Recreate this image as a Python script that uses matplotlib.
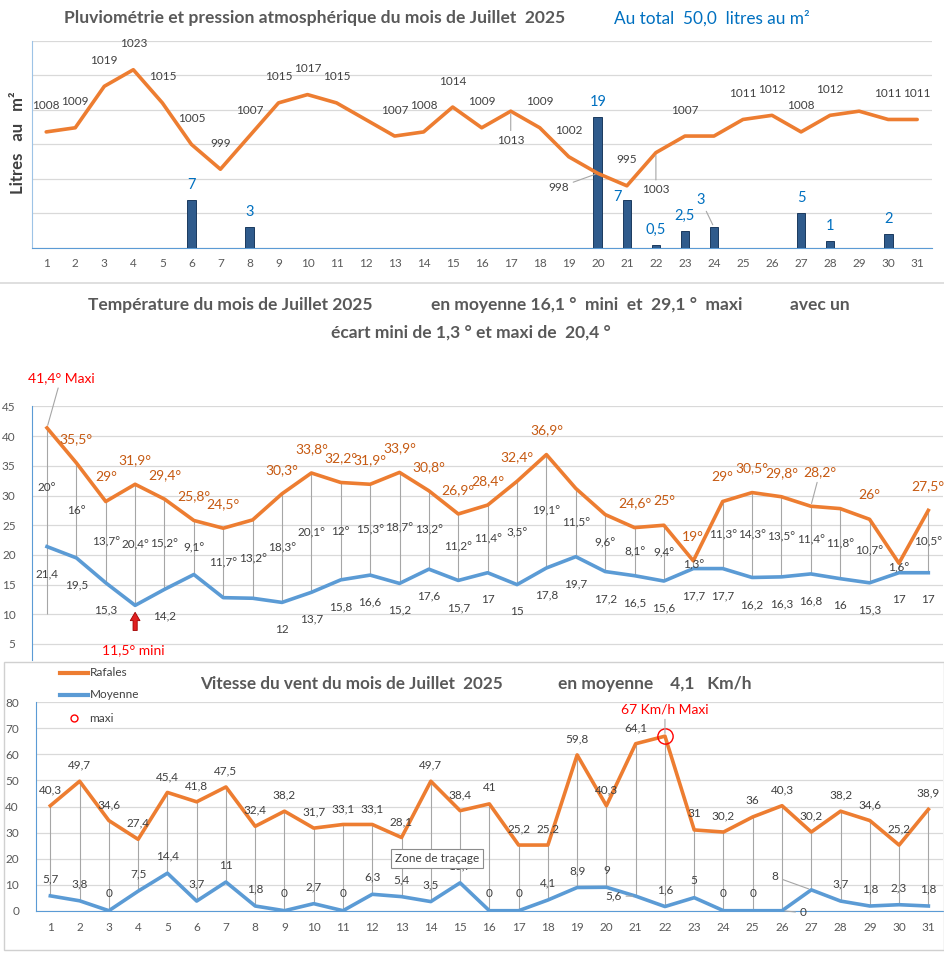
import matplotlib
matplotlib.use("Agg")
import matplotlib.pyplot as plt
from matplotlib.patches import Rectangle
from matplotlib.lines import Line2D

plt.rcParams['font.family'] = ['Lato', 'DejaVu Sans']

W, H = 944, 956
ORANGE = '#ED7D31'
BLUE = '#5B9BD5'
DARK_ORANGE = '#C65911'
RAIN_BLUE = '#0070C0'
GRID = '#D9D9D9'
TITLE_GREY = '#595959'
LABEL_GREY = '#404040'

DAYS = list(range(1, 32))

# pressure (hPa) and rain (mm)
PRESSURE = [1008, 1009, 1019, 1023, 1015, 1005, 999, 1007, 1015, 1017, 1015, 1011, 1007, 1008, 1014,
            1009, 1013, 1009, 1002, 998, 995, 1003, 1007, 1007, 1011, 1012, 1008, 1012, 1013, 1011, 1011]
PRESSURE_NO_LABEL = [12, 24, 29]
RAIN_DAYS = [6, 8, 20, 21, 22, 23, 24, 27, 28, 30]
RAIN_MM = [7, 3, 19, 7, 0.5, 2.5, 3, 5, 1, 2]

# temperatures
T_MAX = [41.4, 35.5, 29, 31.9, 29.4, 25.8, 24.5, 25.9, 30.3, 33.8, 32.2, 31.9, 33.9, 30.8, 26.9,
         28.4, 32.4, 36.9, 31.2, 26.8, 24.6, 25, 19, 29, 30.5, 29.8, 28.2, 27.8, 26, 18.6, 27.5]
T_MIN = [21.4, 19.5, 15.3, 11.5, 14.2, 16.7, 12.8, 12.7, 12, 13.7, 15.8, 16.6, 15.2, 17.6, 15.7,
         17, 15, 17.8, 19.7, 17.2, 16.5, 15.6, 17.7, 17.7, 16.2, 16.3, 16.8, 16, 15.3, 17, 17]
T_SPREAD = [20, 16, 13.7, 20.4, 15.2, 9.1, 11.7, 13.2, 18.3, 20.1, 12, 15.3, 18.7, 13.2, 11.2,
            11.4, 3.5, 19.1, 11.5, 9.6, 8.1, 9.4, 1.3, 11.3, 14.3, 13.5, 11.4, 11.8, 10.7, 1.6, 10.5]
T_MAX_NO_LABEL = [1, 8, 19, 20, 28, 30]
T_MIN_NO_LABEL = [4, 6, 7, 8]

# wind (km/h)
GUST = [40.3, 49.7, 34.6, 27.4, 45.4, 41.8, 47.5, 32.4, 38.2, 31.7, 33.1, 33.1, 28.1, 49.7, 38.4,
        41, 25.2, 25.2, 59.8, 40.3, 64.1, 67, 31, 30.2, 36, 40.3, 30.2, 38.2, 34.6, 25.2, 38.9]
WIND_MEAN = [5.7, 3.8, 0, 7.5, 14.4, 3.7, 11, 1.8, 0, 2.7, 0, 6.3, 5.4, 3.5, 10.7,
             0, 0, 4.1, 8.9, 9, 5.6, 1.6, 5, 0, 0, 0, 8, 3.7, 1.8, 2.3, 1.8]
GUST_MAX_DAY = 22


def fmt(v):
    s = f"{v:.1f}".replace('.', ',')
    return s[:-2] if s.endswith(',0') else s


def box(left, top, right, bottom):
    return [left / W, 1 - bottom / H, (right - left) / W, (bottom - top) / H]


def fx(px):
    return px / W


def fy(py):
    return 1 - py / H


def style_axes(ax, left_spine=True, bottom_spine=True):
    for s in ['top', 'right']:
        ax.spines[s].set_visible(False)
    ax.spines['left'].set_visible(left_spine)
    ax.spines['bottom'].set_visible(bottom_spine)
    ax.spines['left'].set_color(BLUE)
    ax.spines['bottom'].set_color(BLUE)
    ax.yaxis.grid(True, color=GRID, lw=0.9)
    ax.set_axisbelow(True)


def label(ax, x, y, text, dx=0, dy=0, color=LABEL_GREY, size=8.5, leader=False, **kw):
    arrow = dict(arrowstyle='-', color='#A6A6A6', lw=0.8, shrinkA=1, shrinkB=2) if leader else None
    ax.annotate(text, (x, y), xytext=(dx, dy), textcoords='offset pixels', ha='center', va='center',
                color=color, fontsize=size, arrowprops=arrow, zorder=6, **kw)


fig = plt.figure(figsize=(W / 100, H / 100), dpi=100)

# ---------------- rain + pressure ----------------
ax_r = fig.add_axes(box(31.7, 40.7, 931.7, 248))
ax_r.bar(RAIN_DAYS, RAIN_MM, width=0.3, color='#2F5B8C', edgecolor='#1B3A5E', linewidth=0.7, zorder=3)
ax_r.set_xlim(0.5, 31.5)
ax_r.set_ylim(0, 30)
ax_r.set_yticks(range(0, 31, 5))
ax_r.tick_params(axis='y', length=0, labelleft=False)
ax_r.set_xticks(DAYS)
ax_r.tick_params(axis='x', length=0, labelsize=8.5, labelcolor=TITLE_GREY, pad=7)
style_axes(ax_r)
ax_r.spines['left'].set_color('#9DC3E6')

rain_offsets = {21: (-9, 3, False), 24: (-13, 27, True)}
for d, v in zip(RAIN_DAYS, RAIN_MM):
    dx, dy, lead = rain_offsets.get(d, (0, 15, False))
    label(ax_r, d, v, fmt(v), dx, dy, color=RAIN_BLUE, size=10.5, leader=lead)

ax_p = ax_r.twinx()
ax_p.plot(DAYS, PRESSURE, color=ORANGE, lw=2.6, zorder=4, solid_capstyle='round')
ax_p.set_ylim(980, 1030)
ax_p.set_yticks([])
for s in ax_p.spines.values():
    s.set_visible(False)

press_offsets = {17: (0, -29, True), 20: (-39, -14, True), 22: (0, -37, True)}
for d, v in zip(DAYS, PRESSURE):
    if d in PRESSURE_NO_LABEL:
        continue
    dx, dy, lead = press_offsets.get(d, (0, 26, False))
    label(ax_p, d, v, str(v), dx, dy, leader=lead)

fig.text(fx(18), fy(143), 'Litres   au   m²', rotation=90, ha='center', va='center',
         fontsize=12, fontweight='bold', color=LABEL_GREY)
fig.text(fx(64), fy(18), 'Pluviométrie et pression atmosphérique du mois de Juillet  2025',
         ha='left', va='center', fontsize=12.6, fontweight='bold', color=TITLE_GREY)
fig.text(fx(614), fy(18), 'Au total  50,0  litres au m²', ha='left', va='center',
         fontsize=12.4, color=RAIN_BLUE)
fig.add_artist(Line2D([0, 1], [fy(283)] * 2, color=GRID, lw=1.2))

# ---------------- temperature ----------------
ax_t = fig.add_axes(box(32.3, 406.5, 943, 660))
ax_t.set_xlim(0.5, 31.5)
ax_t.set_ylim(2.3, 45)
ax_t.set_yticks(range(5, 46, 5))
ax_t.set_xticks([])
ax_t.tick_params(axis='y', length=0, labelsize=8.5, labelcolor=TITLE_GREY, pad=12)
style_axes(ax_t, bottom_spine=False)

ax_t.vlines(DAYS, T_MIN, T_MAX, color='#A6A6A6', lw=0.8, zorder=2)
ax_t.vlines(DAYS[0], 10, T_MIN[0], color='#A6A6A6', lw=0.8, zorder=2)
ax_t.plot(DAYS, T_MAX, color=ORANGE, lw=2.6, zorder=4)
ax_t.plot(DAYS, T_MIN, color=BLUE, lw=2.6, zorder=4)

for d, hi, lo, sp in zip(DAYS, T_MAX, T_MIN, T_SPREAD):
    if d not in T_MAX_NO_LABEL:
        dx, dy, lead = (9, 34, True) if d == 27 else (0, 24, False)
        label(ax_t, d, hi, fmt(hi) + '°', dx, dy, color=DARK_ORANGE, size=10, leader=lead)
    if d not in T_MIN_NO_LABEL:
        label(ax_t, d, lo, fmt(lo), 0, -27)
    label(ax_t, d, (hi + lo) / 2, fmt(sp) + '°')

label(ax_t, 1, T_MAX[0], fmt(T_MAX[0]) + '° Maxi', 14, 50, color='red', size=10, leader=True)
label(ax_t, 4, T_MIN[3], fmt(T_MIN[3]) + '° mini', -2, -45, color='red', size=10)
ax_t.annotate('', xy=(4, 10.8), xytext=(4, 6.8),
              arrowprops=dict(arrowstyle='simple,head_width=0.7,head_length=0.6,tail_width=0.3',
                              fc='#E02020', ec='#A00000', lw=0.6), zorder=6)

t_title = dict(ha='left', va='center', fontsize=12.5, fontweight='bold', color=TITLE_GREY)
fig.text(fx(88), fy(305), 'Température du mois de Juillet 2025', **t_title)
fig.text(fx(431), fy(305), 'en moyenne 16,1 °  mini  et  29,1 °  maxi', **t_title)
fig.text(fx(790), fy(305), 'avec un', **t_title)
fig.text(fx(331), fy(333), 'écart mini de 1,3 ° et maxi de  20,4 °', **t_title)

# ---------------- wind ----------------
fig.add_artist(Rectangle((fx(4), fy(950)), (W - 4) / W, (950 - 662) / H, fill=False,
                         ec='#D0D0D0', lw=1))
ax_w = fig.add_axes(box(35.7, 702.3, 943, 910.7))
ax_w.set_xlim(0.5, 31.5)
ax_w.set_ylim(0, 80)
ax_w.set_yticks(range(0, 81, 10))
ax_w.set_xticks(DAYS)
ax_w.tick_params(axis='both', length=0, labelsize=8.5, labelcolor=TITLE_GREY)
ax_w.tick_params(axis='y', pad=12)
ax_w.tick_params(axis='x', pad=8)
style_axes(ax_w)

ax_w.vlines(DAYS, WIND_MEAN, GUST, color='#A6A6A6', lw=0.8, zorder=2)
ax_w.plot(DAYS, GUST, color=ORANGE, lw=2.6, zorder=4)
ax_w.plot(DAYS, WIND_MEAN, color=BLUE, lw=2.6, zorder=4)
ax_w.plot([GUST_MAX_DAY], [GUST[GUST_MAX_DAY - 1]], 'o', ms=11, mfc='none', mec='red', mew=1, zorder=5)

mean_offsets = {21: (-22, 0, True), 27: (-36, 13, True), 26: (21, -2, True)}
for d, g, m in zip(DAYS, GUST, WIND_MEAN):
    if d != GUST_MAX_DAY:
        label(ax_w, d, g, fmt(g), 0, 16)
    dx, dy, lead = mean_offsets.get(d, (0, 17, False))
    label(ax_w, d, m, fmt(m), dx, dy, leader=lead)
label(ax_w, GUST_MAX_DAY, GUST[GUST_MAX_DAY - 1], '67 Km/h Maxi', 0, 27, color='red', size=10,
      leader=True)

fig.text(fx(200), fy(684), 'Vitesse du vent du mois de Juillet  2025', ha='left', va='center',
         fontsize=12.3, fontweight='bold', color=TITLE_GREY)
fig.text(fx(558), fy(684), 'en moyenne    4,1   Km/h', ha='left', va='center',
         fontsize=12.5, fontweight='bold', color=TITLE_GREY)

# legend
fig.add_artist(Line2D([fx(60), fx(88)], [fy(672.7)] * 2, color=ORANGE, lw=3))
fig.add_artist(Line2D([fx(60), fx(88)], [fy(695)] * 2, color=BLUE, lw=3))
fig.add_artist(Line2D([fx(74)], [fy(718)], marker='o', ms=5, mfc='none', mec='red', mew=1))
for yy, txt in [(672.7, 'Rafales'), (695, 'Moyenne'), (718, 'maxi')]:
    fig.text(fx(89.5), fy(yy), txt, ha='left', va='center', fontsize=8.5, color=LABEL_GREY)

fig.text(fx(395), fy(858.5), 'Zone de traçage', ha='left', va='center', fontsize=8.5,
         color=LABEL_GREY, zorder=10,
         bbox=dict(boxstyle='square,pad=0.35', fc='white', ec='#8C8C8C', lw=0.8))

fig.savefig('out.png', dpi=100)
